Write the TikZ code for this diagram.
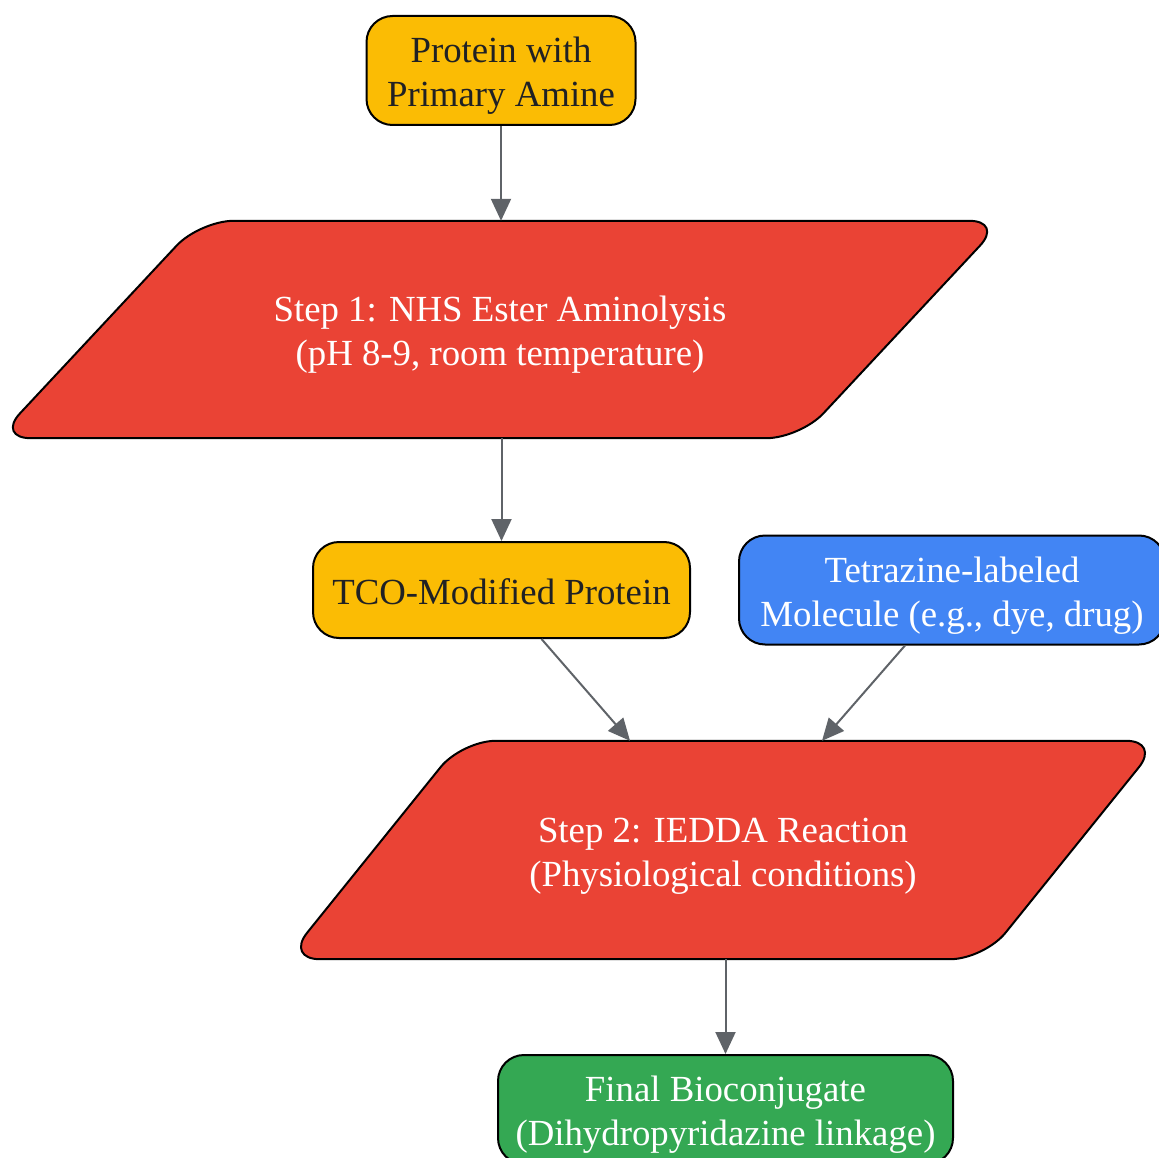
\documentclass[tikz,border=0pt]{standalone}
\usepackage{fontspec}
\setmainfont{Liberation Serif}
\usetikzlibrary{positioning,arrows.meta,backgrounds}

\definecolor{amberfill}{HTML}{FBBC04}
\definecolor{stepred}{HTML}{EA4335}
\definecolor{molblue}{HTML}{4285F4}
\definecolor{donegreen}{HTML}{34A853}
\definecolor{arrgray}{HTML}{5F6368}
\definecolor{darktext}{HTML}{202124}

\begin{document}
\begin{tikzpicture}[
  x=1pt, y=1pt,
  lift/.style={execute at begin node={\rule{0pt}{#1}}},
  box/.style={draw, line width=2pt, rounded corners=26pt, align=center,
              inner sep=0pt, font=\fontsize{36.8}{44}\selectfont},
  steptext/.style={align=center, inner sep=0pt, text=white,
              font=\fontsize{36.8}{44}\selectfont, lift=80pt},
  slab/.style={draw, line width=2pt, fill=stepred, rounded corners=34pt},
  arr/.style={-{Triangle[length=22pt,width=20pt]}, line width=2pt, draw=arrgray}
]
  \useasboundingbox (0,0) rectangle (1159,-1158);

  \node[box, fill=amberfill, text=darktext, minimum width=269pt, minimum height=109pt,
        lift=80pt] (amine) at (501,-70.5) {Protein with\\Primary Amine};
  \node[steptext, minimum width=803pt, minimum height=217pt]
    (step1) at (500,-329.5) {Step 1: NHS Ester Aminolysis\\(pH 8-9, room temperature)};
  \node[box, fill=amberfill, text=darktext, minimum width=377pt, minimum height=96pt,
        lift=30pt] (tco) at (501.5,-590) {TCO-Modified Protein};
  \node[box, fill=molblue, text=white, minimum width=426pt, minimum height=109pt,
        lift=80pt, right=47pt of tco] (tetrazine) {Tetrazine-labeled\\Molecule (e.g., dye, drug)};
  \node[steptext, minimum width=698pt, minimum height=218pt]
    (step2) at (723,-850) {Step 2: IEDDA Reaction\\(Physiological conditions)};
  \node[box, fill=donegreen, text=white, minimum width=455pt, minimum height=109pt,
        lift=80pt] (final) at (725.5,-1109.5) {Final Bioconjugate\\(Dihydropyridazine linkage)};

  % slanted step shapes behind the step texts
  \begin{scope}[on background layer]
    \draw[slab] ([xshift=101.5pt]step1.north west) -- ([xshift=101.5pt]step1.north east)
      -- ([xshift=-101.5pt]step1.south east) -- ([xshift=-101.5pt]step1.south west) -- cycle;
    \draw[slab] ([xshift=88pt]step2.north west) -- ([xshift=88pt]step2.north east)
      -- ([xshift=-88pt]step2.south east) -- ([xshift=-88pt]step2.south west) -- cycle;
  \end{scope}

  \draw[arr] (amine) -- (step1.north -| amine);
  \draw[arr] (step1.south -| tco) -- (tco);
  \draw[arr] ([xshift=40pt]tco.south) -- ([xshift=-93pt]step2.north);
  \draw[arr] ([xshift=-47pt]tetrazine.south) -- ([xshift=99pt]step2.north);
  \draw[arr] (step2.south -| final) -- (final);
\end{tikzpicture}
\end{document}
